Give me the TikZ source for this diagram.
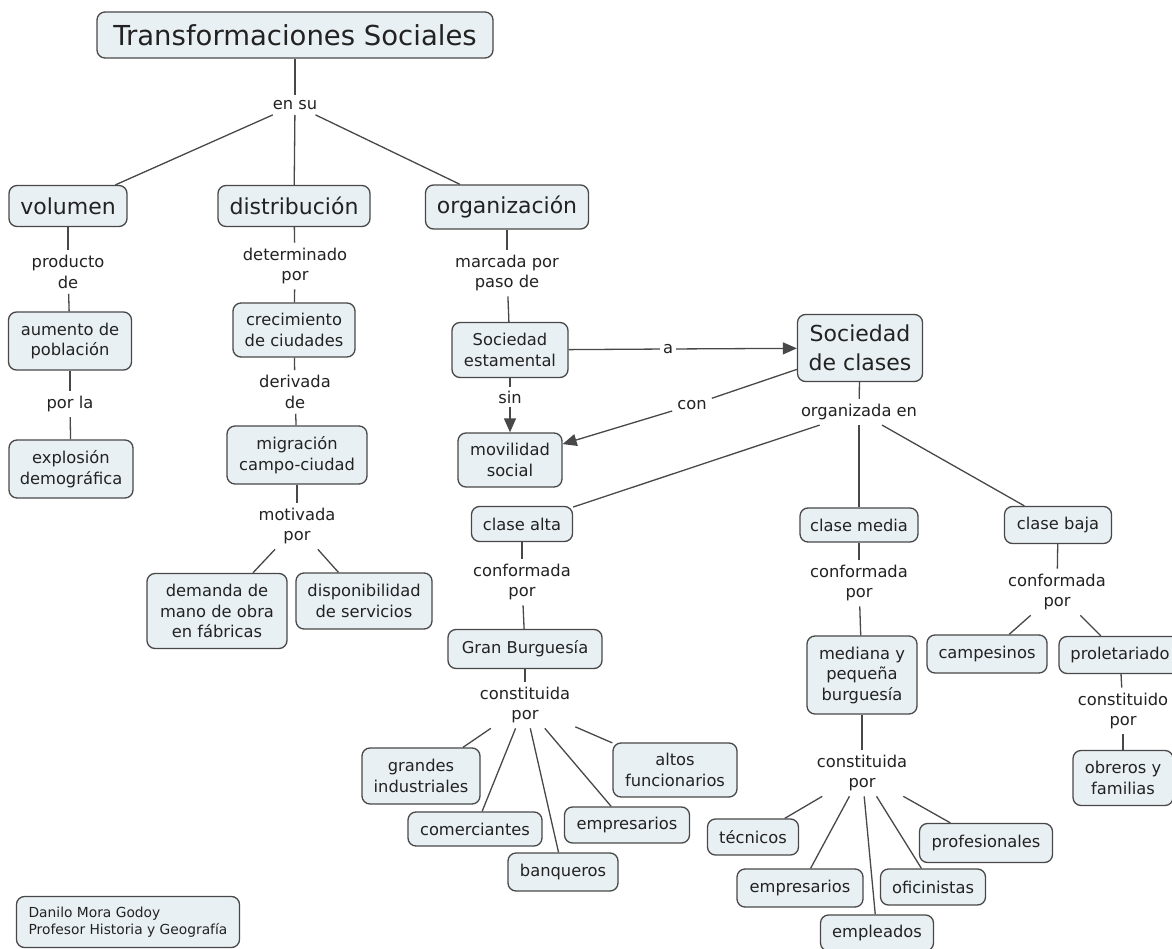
\documentclass[tikz,border=0pt]{standalone}
\usepackage{fontspec}
\setmainfont{DejaVu Sans}
\usetikzlibrary{arrows.meta}
\definecolor{cfill}{RGB}{233,240,244}
\definecolor{cline}{RGB}{72,72,72}
\definecolor{ctext}{RGB}{34,34,34}
\begin{document}
\begin{tikzpicture}[x=1pt,y=-1pt,
  concept/.style={draw=cline, line width=1.3pt, fill=cfill, rounded corners=8pt,
    align=center, text=ctext, inner sep=0pt, font=\fontsize{16.3}{20.5}\selectfont},
  big/.style={concept, font=\fontsize{22}{29}\selectfont},
  lbl/.style={align=center, text=ctext, inner sep=5pt, font=\fontsize{16.3}{20.5}\selectfont},
  conn/.style={draw=cline, line width=1.3pt},
  arr/.style={conn, -{Triangle[length=14pt,width=12pt]}}
]
\useasboundingbox (0,0) rectangle (1172,949);
\fill[white] (0,0) rectangle (1172,949);

% top
\node[concept, font=\fontsize{27.5}{32}\selectfont, minimum width=396, minimum height=46] (title) at (295,35) {Transformaciones Sociales};
\node[lbl] (ensu) at (295,105) {en su};
\node[big, minimum width=118, minimum height=41] (vol) at (68,206) {volumen};
\node[big, minimum width=152, minimum height=41] (dist) at (294,206) {distribución};
\node[big, minimum width=163, minimum height=44] (org) at (507,207) {organización};

% volumen branch
\node[lbl] (prod) at (68,272) {producto\\de};
\node[concept, minimum width=123, minimum height=58] (aum) at (70,341) {aumento de\\población};
\node[lbl] (porla) at (70,404) {por la};
\node[concept, minimum width=124, minimum height=58] (expl) at (71,469) {explosión\\demográfica};

% distribucion branch
\node[lbl] (det) at (295,266) {determinado\\por};
\node[concept, minimum width=122, minimum height=54] (crec) at (294,330) {crecimiento\\de ciudades};
\node[lbl] (deriv) at (295,392) {derivada\\de};
\node[concept, minimum width=140, minimum height=58] (migr) at (297,455) {migración\\campo-ciudad};
\node[lbl] (motiv) at (297,526) {motivada\\por};
\node[concept, minimum width=140, minimum height=75] (dem) at (217,611) {demanda de\\mano de obra\\en fábricas};
\node[concept, minimum width=136, minimum height=56] (disp) at (364,601) {disponibilidad\\de servicios};

% organizacion branch
\node[lbl] (marc) at (507,273) {marcada por\\paso de};
\node[concept, minimum width=116, minimum height=55] (est) at (510,350) {Sociedad\\estamental};
\node[lbl, inner sep=3pt] (a) at (668,349) {a};
\node[big, minimum width=125, minimum height=67] (socc) at (860,348) {Sociedad\\de clases};
\node[lbl, inner sep=3pt] (sin) at (510,397) {sin};
\node[concept, minimum width=104, minimum height=54] (movil) at (510,460) {movilidad\\social};
\node[lbl] (con) at (692,405) {con};
\node[lbl] (orgen) at (859,412) {organizada en};

% clases
\node[concept, minimum width=101, minimum height=35] (alta) at (522,524) {clase alta};
\node[concept, minimum width=118, minimum height=34] (media) at (859,525) {clase media};
\node[concept, minimum width=107, minimum height=37] (baja) at (1058,525) {clase baja};

% clase alta
\node[lbl] (confA) at (522,582) {conformada\\por};
\node[concept, minimum width=154, minimum height=39] (gran) at (525,649) {Gran Burguesía};
\node[lbl] (constA) at (525,705) {constituida\\por};
\node[concept, minimum width=118, minimum height=56] (grand) at (421,776) {grandes\\industriales};
\node[concept, minimum width=134, minimum height=34] (comer) at (475,829) {comerciantes};
\node[concept, minimum width=110, minimum height=38] (banq) at (563,872) {banqueros};
\node[concept, minimum width=125, minimum height=36] (empA) at (627,825) {empresarios};
\node[concept, minimum width=124, minimum height=54] (altos) at (675,770) {altos\\funcionarios};

% clase media
\node[lbl] (confM) at (859,583) {conformada\\por};
\node[concept, minimum width=110, minimum height=78] (med) at (862,675) {mediana y\\pequeña\\burguesía};
\node[lbl] (constM) at (862,773) {constituida\\por};
\node[concept, minimum width=91, minimum height=36] (tec) at (753,837) {técnicos};
\node[concept, minimum width=126, minimum height=38] (empM) at (800,888) {empresarios};
\node[concept, minimum width=113, minimum height=36] (emple) at (877,933) {empleados};
\node[concept, minimum width=105, minimum height=36] (ofic) at (933,887) {oficinistas};
\node[concept, minimum width=133, minimum height=39] (prof) at (986,843) {profesionales};

% clase baja
\node[lbl] (confB) at (1057,592) {conformada\\por};
\node[concept, minimum width=120, minimum height=38] (camp) at (987,654) {campesinos};
\node[concept, minimum width=122, minimum height=37] (prol) at (1120,655) {proletariado};
\node[lbl] (constB) at (1123,711) {constituido\\por};
\node[concept, minimum width=100, minimum height=55] (obr) at (1123,778) {obreros y\\familias};

% footer
\node[concept, font=\fontsize{13.8}{17}\selectfont, align=left, minimum width=223, minimum height=51] (autor) at (128,922) {Danilo Mora Godoy\\Profesor Historia y Geografía};

% connectors
\draw[conn] (title) -- (ensu);
\draw[conn] (ensu) -- (vol);
\draw[conn] (ensu) -- (dist);
\draw[conn] (ensu) -- (org);

\draw[conn] (vol) -- (prod);
\draw[conn] (prod) -- (aum);
\draw[conn] (aum) -- (porla);
\draw[conn] (porla) -- (expl);

\draw[conn] (dist) -- (det);
\draw[conn] (det) -- (crec);
\draw[conn] (crec) -- (deriv);
\draw[conn] (deriv) -- (migr);
\draw[conn] (migr) -- (motiv);
\draw[conn] (motiv) -- (dem);
\draw[conn] (motiv) -- (disp);

\draw[conn] (org) -- (marc);
\draw[conn] (marc) -- (est);
\draw[conn] (est) -- (a);
\draw[arr] (a) -- (socc);
\draw[conn] (est) -- (sin);
\draw[arr] (sin) -- (movil);
\draw[conn] (socc) -- (con);
\draw[arr] (con) -- (movil);
\draw[conn] (socc) -- (orgen);
\draw[conn] (orgen) -- (alta);
\draw[conn] (orgen) -- (media);
\draw[conn] (orgen) -- (baja);

\draw[conn] (alta) -- (confA);
\draw[conn] (confA) -- (gran);
\draw[conn] (gran) -- (constA);
\draw[conn] (constA) -- (grand);
\draw[conn] (constA) -- (comer);
\draw[conn] (constA) -- (banq);
\draw[conn] (constA) -- (empA);
\draw[conn] (constA) -- (altos);

\draw[conn] (media) -- (confM);
\draw[conn] (confM) -- (med);
\draw[conn] (med) -- (constM);
\draw[conn] (constM) -- (tec);
\draw[conn] (constM) -- (empM);
\draw[conn] (constM) -- (emple);
\draw[conn] (constM) -- (ofic);
\draw[conn] (constM) -- (prof);

\draw[conn] (baja) -- (confB);
\draw[conn] (confB) -- (camp);
\draw[conn] (confB) -- (prol);
\draw[conn] (prol) -- (constB);
\draw[conn] (constB) -- (obr);
\end{tikzpicture}
\end{document}
